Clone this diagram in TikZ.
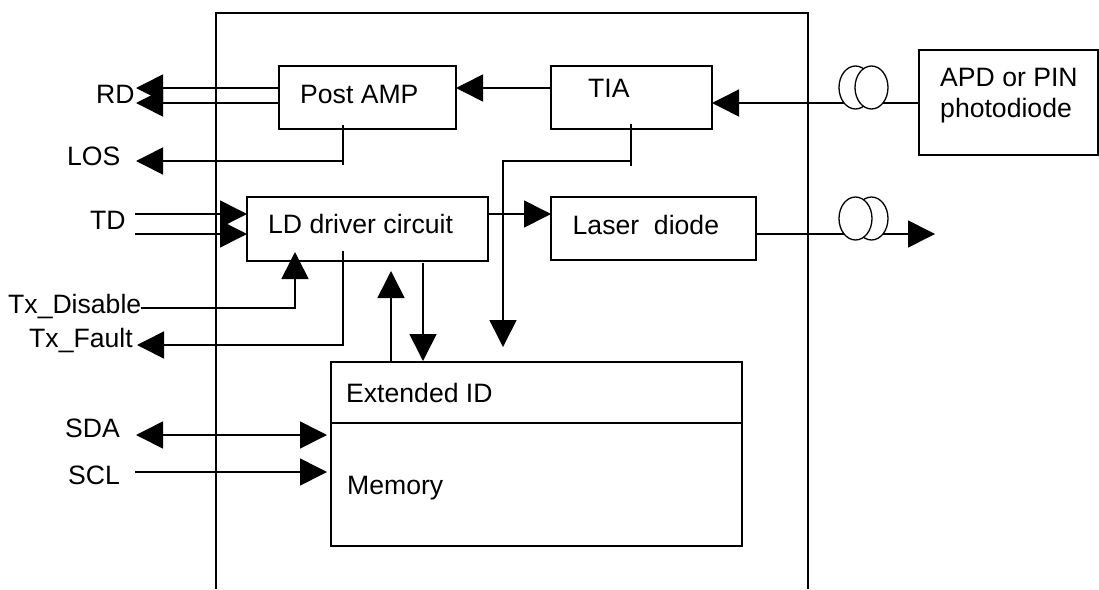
\documentclass[tikz,border=0pt]{standalone}
\usepackage{fontspec}
\setmainfont{Liberation Sans}
\usetikzlibrary{arrows.meta,shapes.geometric}
\tikzset{
  x=1pt,y=-1pt,
  boxn/.style={draw,line width=2.2pt,inner sep=0,outer sep=0,rectangle},
  lbl/.style={font=\fontsize{26.6}{30}\selectfont,inner sep=0,anchor=base west},
  wire/.style={line width=1.6pt,line join=miter},
  tip/.style={-{Triangle[length=27pt,width=27pt]},wire},
  tips/.style={{Triangle[length=27pt,width=27pt]}-{Triangle[length=27pt,width=27pt]},wire},
  coil/.style={draw,fill=white,line width=1.3pt,ellipse,minimum width=33pt,minimum height=43pt,inner sep=0,outer sep=0},
}
\begin{document}
\begin{tikzpicture}
\useasboundingbox (0,0) rectangle (1099,589);
\draw[line width=2pt] (215.5,589) -- (215.5,13) -- (807.5,13) -- (807.5,589);
% boxes
\node[boxn,minimum width=177pt,minimum height=63pt] (pa) at (367.5,97.5) {};
\node[boxn,minimum width=161pt,minimum height=63pt] (ti) at (631.5,97.5) {};
\node[boxn,minimum width=179.5pt,minimum height=105pt] (ap) at (1008.75,102.5) {};
\node[boxn,minimum width=241pt,minimum height=64pt] (ld) at (367.5,229) {};
\node[boxn,minimum width=205pt,minimum height=63pt] (la) at (653.5,228.5) {};
\node[boxn,minimum width=411pt,minimum height=184pt] (me) at (536.5,454) {};
\coordinate (dl) at (331,423); \coordinate (dr) at (742,423);
\draw[line width=2.2pt] (dl) -- (dr);
% free ends
\coordinate (rd1) at (136,88); \coordinate (rd2) at (136,103);
\coordinate (lo) at (136,161); \coordinate (lob) at (343,165); \coordinate (lot) at (343,125);
\coordinate (td1) at (135,214); \coordinate (td2) at (135,234);
\coordinate (dis) at (141,308); \coordinate (dist) at (295,252);
\coordinate (fa) at (137,345); \coordinate (fat) at (343,251);
\coordinate (mu) at (391,271); \coordinate (md) at (423,263); \coordinate (mdt) at (423,361);
\coordinate (tt) at (631,124); \coordinate (tb) at (631,166); \coordinate (tj) at (631,161);
\coordinate (te) at (503,347);
\coordinate (ou) at (935,234);
\coordinate (sd) at (136,435); \coordinate (sc) at (135,472);
\coordinate (sdr) at (327,435); \coordinate (scr) at (327,472);
% connectors
\draw[tip] (pa.west |- rd1) -- (rd1);
\draw[tip] (pa.west |- rd2) -- (rd2);
\draw[wire] (lot) -- (lob);
\draw[tip] (lob |- lo) -- (lo);
\draw[tip] (td1) -- (ld.west |- td1);
\draw[tip] (td2) -- (ld.west |- td2);
\draw[tip] (dis) -| (dist);
\draw[tip] (fat) |- (fa);
\draw[tip] (me.north -| mu) -- (mu);
\draw[tip] (md) -- (mdt);
\draw[wire] (tt) -- (tb);
\draw[tip] (tj) -| (te);
\draw[tip] (ld.east |- td1) -- (la.west |- td1);
\draw[tip] (ti.west |- rd1) -- (pa.east |- rd1);
\draw[tip] (ap.west |- rd2) -- (ti.east |- rd2);
\draw[tip] (la.east |- td2) -- (ou);
\draw[tips] (sd) -- (sdr);
\draw[tip] (sc) -- (scr);
% coils
\node[coil] (c1) at (855.5,87.5) {};
\node[coil] (c2) at (871.5,87.5) {};
\node[coil] (c3) at (871.5,218.5) {};
\node[coil] (c4) at (855.5,218.5) {};
% labels
\node[lbl] (t1) at (96,103.5) {RD};
\node[lbl] (t2) at (67,165.5) {LOS};
\node[lbl] (t3) at (90,229.5) {TD};
\node[lbl] (t4) at (8,313.5) {Tx\_Disable};
\node[lbl] (t5) at (29,347.5) {Tx\_Fault};
\node[lbl] (t6) at (65,437.5) {SDA};
\node[lbl] (t7) at (68,484.5) {SCL};
\node[lbl] (t8) at (300,103.5) {Post AMP};
\node[lbl] (t9) at (588,97.5) {TIA};
\node[lbl] (t10) at (268,233.5) {LD driver circuit};
\node[lbl] (t11) at (572.5,234.5) {Laser\ \ diode};
\node[lbl] (t12) at (940,86.5) {APD or PIN};
\node[lbl] (t13) at (940,117.5) {photodiode};
\node[lbl] (t14) at (346,402.5) {Extended ID};
\node[lbl] (t15) at (347,494.5) {Memory};
\end{tikzpicture}
\end{document}
